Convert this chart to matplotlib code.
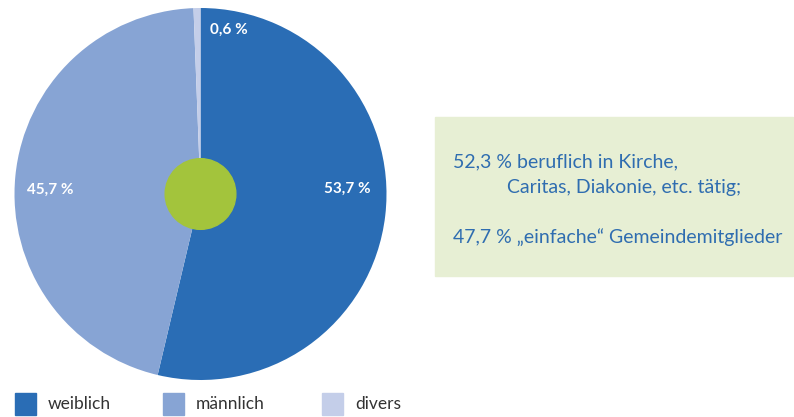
import matplotlib.pyplot as plt
from matplotlib.patches import Circle, Rectangle

# share by gender
labels = ['weiblich', 'männlich', 'divers']
shares = [53.7, 45.7, 0.6]
colors = ['#2a6db5', '#87a4d4', '#c4cee9']

# text box lines
box_lines = ['52,3 % beruflich in Kirche,',
             'Caritas, Diakonie, etc. tätig;',
             '47,7 % \u201eeinfache\u201c Gemeindemitglieder']

W, H = 794, 417
fig = plt.figure(figsize=(W / 100, H / 100), dpi=100)

# pie axes, centre (200, 194) px from top, radius 186 px
cx, cy, r = 200.5, 194, 186
ax = fig.add_axes([(cx - r) / W, (H - cy - r) / H, 2 * r / W, 2 * r / H])
ax.pie(shares, colors=colors, startangle=90, counterclock=False,
       radius=1, wedgeprops=dict(linewidth=0))
ax.add_patch(Circle((0, 0), 0.19, color='#a3c43c', zorder=3))
ax.set_xlim(-1, 1)
ax.set_ylim(-1, 1)
ax.set_aspect('equal')
ax.axis('off')

label_pos = [(0.79, 0.03), (-0.81, 0.02), (0.15, 0.885)]
for (x, y), v in zip(label_pos, shares):
    ax.text(x, y, f'{v:.1f} %'.replace('.', ','), color='white',
            fontsize=11, fontweight='bold', family='Lato',
            ha='center', va='center')

# legend
leg_x = [15, 163, 322]
for lx, lab, c in zip(leg_x, labels, colors):
    fig.patches.append(Rectangle((lx / W, (H - 415) / H), 21 / W, 22 / H,
                                 transform=fig.transFigure, color=c))
    fig.text((lx + 33) / W, (H - 404) / H, lab, fontsize=12.5,
             family='Lato', color='#333333', va='center')

# green info box
fig.patches.append(Rectangle((435 / W, (H - 276) / H), 358 / W, 159 / H,
                             transform=fig.transFigure, color='#e7efd4'))
tc = '#2f6db0'
fnt = ['Lato', 'DejaVu Sans']
fig.text(453 / W, (H - 162) / H, box_lines[0], fontsize=14, family=fnt,
         color=tc, va='center')
fig.text(507 / W, (H - 187) / H, box_lines[1], fontsize=14, family=fnt,
         color=tc, va='center')
fig.text(453 / W, (H - 237) / H, box_lines[2], fontsize=14, family=fnt,
         color=tc, va='center')

fig.savefig('out.png', dpi=100)
